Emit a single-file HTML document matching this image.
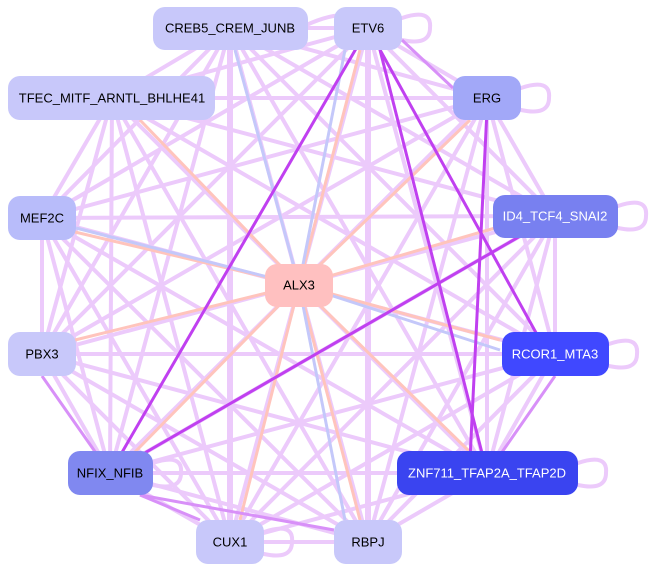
<!DOCTYPE html>
<html><head><meta charset="utf-8"><style>
html,body{margin:0;padding:0;background:#fff;width:650px;height:572px;overflow:hidden}
svg{display:block}
text{font-family:"Liberation Sans",sans-serif;font-size:13px;text-anchor:middle;dominant-baseline:central}
</style></head><body>
<svg width="650" height="572" viewBox="0 0 650 572">
<g stroke="#eccafb" stroke-width="4" fill="none" stroke-linecap="round">
<line x1="230" y1="28" x2="368" y2="28"/><line x1="230" y1="28" x2="112" y2="98"/><line x1="230" y1="28" x2="487" y2="98"/><line x1="230" y1="28" x2="42" y2="218"/><line x1="230" y1="28" x2="555" y2="216"/><line x1="230" y1="28" x2="42" y2="354"/><line x1="230" y1="28" x2="555" y2="354"/><line x1="230" y1="28" x2="110" y2="473"/><line x1="230" y1="28" x2="487" y2="473"/><line x1="230" y1="28" x2="230" y2="542" stroke-width="6"/><line x1="230" y1="28" x2="368" y2="542"/>
<line x1="368" y1="28" x2="112" y2="98"/><line x1="368" y1="28" x2="487" y2="98"/><line x1="368" y1="28" x2="42" y2="218"/><line x1="368" y1="28" x2="555" y2="216"/><line x1="368" y1="28" x2="42" y2="354"/><line x1="368" y1="28" x2="487" y2="473"/><line x1="368" y1="28" x2="230" y2="542"/><line x1="368" y1="28" x2="368" y2="542" stroke-width="6"/>
<line x1="112" y1="98" x2="487" y2="98"/><line x1="112" y1="98" x2="42" y2="218"/><line x1="112" y1="98" x2="555" y2="216"/><line x1="112" y1="98" x2="42" y2="354"/><line x1="112" y1="98" x2="555" y2="354"/><line x1="112" y1="98" x2="110" y2="473"/><line x1="112" y1="98" x2="487" y2="473"/><line x1="112" y1="98" x2="230" y2="542"/><line x1="112" y1="98" x2="368" y2="542"/>
<line x1="487" y1="98" x2="42" y2="218"/><line x1="487" y1="98" x2="555" y2="216"/><line x1="487" y1="98" x2="42" y2="354"/><line x1="487" y1="98" x2="555" y2="354"/><line x1="487" y1="98" x2="110" y2="473"/><line x1="487" y1="98" x2="487" y2="473"/><line x1="487" y1="98" x2="230" y2="542"/><line x1="487" y1="98" x2="368" y2="542"/>
<line x1="42" y1="218" x2="555" y2="216"/><line x1="42" y1="218" x2="42" y2="354"/><line x1="42" y1="218" x2="555" y2="354"/><line x1="42" y1="218" x2="110" y2="473"/><line x1="42" y1="218" x2="487" y2="473"/><line x1="42" y1="218" x2="230" y2="542"/><line x1="42" y1="218" x2="368" y2="542"/>
<line x1="555" y1="216" x2="42" y2="354"/><line x1="555" y1="216" x2="555" y2="354"/><line x1="555" y1="216" x2="110" y2="473"/><line x1="555" y1="216" x2="487" y2="473"/><line x1="555" y1="216" x2="230" y2="542"/><line x1="555" y1="216" x2="368" y2="542"/>
<line x1="42" y1="354" x2="555" y2="354"/><line x1="42" y1="354" x2="110" y2="473"/><line x1="42" y1="354" x2="487" y2="473"/><line x1="42" y1="354" x2="230" y2="542"/><line x1="42" y1="354" x2="368" y2="542"/>
<line x1="555" y1="354" x2="110" y2="473"/><line x1="555" y1="354" x2="487" y2="473"/><line x1="555" y1="354" x2="230" y2="542"/><line x1="555" y1="354" x2="368" y2="542"/>
<line x1="110" y1="473" x2="487" y2="473"/><line x1="110" y1="473" x2="230" y2="542"/><line x1="110" y1="473" x2="368" y2="542"/>
<line x1="487" y1="473" x2="230" y2="542"/><line x1="487" y1="473" x2="368" y2="542"/><line x1="230" y1="542" x2="368" y2="542"/>
<path d="M300 28 q45 -22 60 -6"/><path d="M402 18 q30 -10 28 10 q0 18 -28 12"/><path d="M521 88 q30 -10 28 10 q0 18 -28 12"/><path d="M618 206 q30 -10 28 10 q0 18 -28 12"/><path d="M609 344 q30 -10 28 10 q0 18 -28 12"/><path d="M578 463 q30 -10 28 10 q0 18 -28 12"/><path d="M153 463 q30 -10 28 10 q0 18 -28 12"/><path d="M264 532 q30 -10 28 10 q0 18 -28 12"/>
</g>
<g stroke="#ffc4bc" stroke-width="3">
<line x1="299" y1="285" x2="140" y2="120"/><line x1="299" y1="285" x2="360" y2="50"/><line x1="299" y1="285" x2="470" y2="120"/><line x1="299" y1="285" x2="495" y2="228"/><line x1="299" y1="285" x2="500" y2="340"/><line x1="299" y1="285" x2="75" y2="232"/><line x1="299" y1="285" x2="75" y2="340"/><line x1="299" y1="285" x2="135" y2="452"/><line x1="299" y1="285" x2="470" y2="452"/><line x1="299" y1="285" x2="240" y2="520"/><line x1="299" y1="285" x2="360" y2="520"/>
</g>
<g stroke="#c4c8fa" stroke-width="3">
<line x1="299" y1="285" x2="235" y2="50"/><line x1="299" y1="285" x2="345" y2="50"/><line x1="299" y1="285" x2="500" y2="350"/><line x1="299" y1="285" x2="345" y2="520"/><line x1="299" y1="285" x2="76" y2="228"/>
</g>
<g stroke="#c040f0" stroke-width="3">
<line x1="110" y1="473" x2="555" y2="216"/><line x1="110" y1="473" x2="368" y2="28"/><line x1="368" y1="28" x2="540" y2="340"/><line x1="380" y1="50" x2="487" y2="473"/><line x1="487" y1="110" x2="470" y2="460"/>
</g>
<g stroke="#d890f8" stroke-width="3">
<line x1="110" y1="473" x2="42" y2="376"/><line x1="140" y1="495" x2="334" y2="530"/><line x1="140" y1="495" x2="200" y2="520"/><line x1="555" y1="376" x2="500" y2="455"/><line x1="402" y1="40" x2="453" y2="88"/>
</g>
<g font-size="13">
<rect x="153" y="7" width="155" height="43" rx="12" fill="#c8c8fa"/><text x="230" y="28">CREB5_CREM_JUNB</text>
<rect x="334" y="7" width="68" height="43" rx="12" fill="#c8c8fa"/><text x="368" y="28">ETV6</text>
<rect x="8" y="76" width="207" height="44" rx="12" fill="#c8c8fa"/><text x="112" y="98">TFEC_MITF_ARNTL_BHLHE41</text>
<rect x="453" y="76" width="68" height="44" rx="12" fill="#a2a8f8"/><text x="487" y="98">ERG</text>
<rect x="8" y="196" width="68" height="44" rx="12" fill="#b8bcfa"/><text x="42" y="218">MEF2C</text>
<rect x="493" y="195" width="125" height="43" rx="12" fill="#7880f0"/><text x="555" y="216" fill="#fff">ID4_TCF4_SNAI2</text>
<rect x="265" y="264" width="68" height="43" rx="12" fill="#ffc0c0"/><text x="299" y="285">ALX3</text>
<rect x="8" y="332" width="68" height="44" rx="12" fill="#c8c8fa"/><text x="42" y="354">PBX3</text>
<rect x="502" y="332" width="107" height="44" rx="12" fill="#4048ff"/><text x="555" y="354" fill="#fff">RCOR1_MTA3</text>
<rect x="68" y="451" width="85" height="44" rx="12" fill="#8088f0"/><text x="110" y="473">NFIX_NFIB</text>
<rect x="397" y="451" width="181" height="44" rx="12" fill="#3a44f0"/><text x="487" y="473" fill="#fff">ZNF711_TFAP2A_TFAP2D</text>
<rect x="196" y="520" width="68" height="44" rx="12" fill="#c8c8fa"/><text x="230" y="542">CUX1</text>
<rect x="334" y="520" width="68" height="44" rx="12" fill="#c8c8fa"/><text x="368" y="542">RBPJ</text>
</g>
</svg>
</body></html>
